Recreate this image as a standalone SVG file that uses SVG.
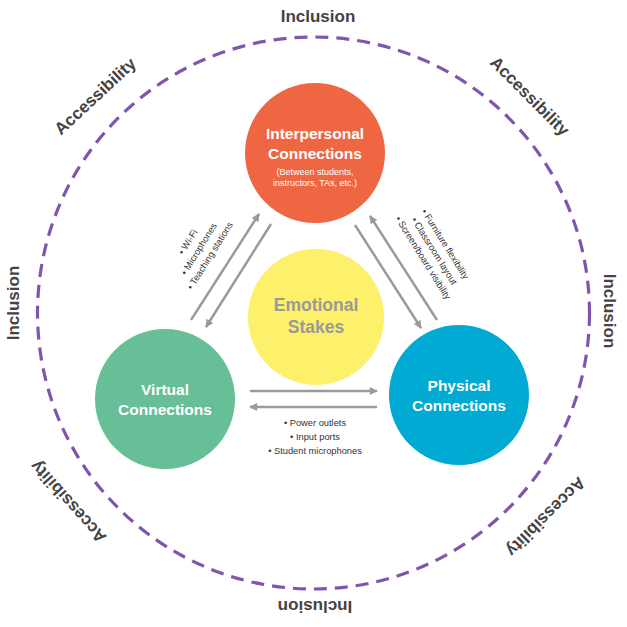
<svg xmlns="http://www.w3.org/2000/svg" width="627" height="627" viewBox="0 0 627 627">
<defs>
<style>
.outer{font-family:"Liberation Sans",Arial,sans-serif;font-weight:bold;font-size:17px;fill:#444;text-anchor:middle}
.title{font-family:"Liberation Sans",Arial,sans-serif;font-weight:bold;font-size:15.5px;fill:#fff;text-anchor:middle}
.sub{font-family:"Liberation Sans",Arial,sans-serif;font-size:9px;fill:#fff;text-anchor:middle}
.lbl{font-family:"Liberation Sans",Arial,sans-serif;font-size:9.3px;fill:#333;text-anchor:middle}
.arr{stroke:#9b9b9b;stroke-width:2.5;fill:none;marker-end:url(#ah)}
</style>
<marker id="ah" viewBox="0 0 10 10" refX="9" refY="5" markerWidth="9" markerHeight="8" markerUnits="userSpaceOnUse" orient="auto">
<path d="M0,0 L10,5 L0,10 z" fill="#9b9b9b"/>
</marker>
</defs>
<rect width="627" height="627" fill="#fff"/>
<circle cx="313.5" cy="313" r="276" fill="none" stroke="#7f56ab" stroke-width="3.2" stroke-dasharray="13 8"/>
<g id="ring-labels">
<text class="outer" x="318" y="22">Inclusion</text>
<text class="outer" transform="translate(315,601) rotate(180)">Inclusion</text>
<text class="outer" transform="translate(19,303) rotate(-90)">Inclusion</text>
<text class="outer" transform="translate(604,311) rotate(90)">Inclusion</text>
<text class="outer" transform="translate(95,96) rotate(-43)" dy="6">Accessibility</text>
<text class="outer" transform="translate(530,96) rotate(45)" dy="6">Accessibility</text>
<text class="outer" transform="translate(68,502) rotate(-132)" dy="6">Accessibility</text>
<text class="outer" transform="translate(546,517) rotate(135)" dy="6">Accessibility</text>
</g>
<g id="connectors">
<line class="arr" x1="191" y1="320" x2="259" y2="214"/>
<line class="arr" x1="271" y1="224" x2="206" y2="327"/>
<line class="arr" x1="355" y1="225" x2="421" y2="328"/>
<line class="arr" x1="437" y1="320" x2="370" y2="216"/>
<line class="arr" x1="250" y1="391" x2="377" y2="391"/>
<line class="arr" x1="377" y1="407" x2="250" y2="407"/>
</g>
<g id="labels-virtual-interpersonal" transform="translate(199,249) rotate(-58)">
<text class="lbl" y="-13" dy="3">• Wi-Fi</text>
<text class="lbl" y="0" dy="3">• Microphones</text>
<text class="lbl" y="13" dy="3">• Teaching stations</text>
</g>
<g id="labels-interpersonal-physical" transform="translate(434,251) rotate(58)">
<text class="lbl" y="-13" dy="3">• Furniture flexibility</text>
<text class="lbl" y="0" dy="3">• Classroom layout</text>
<text class="lbl" y="13" dy="3">• Screen/board visibility</text>
</g>
<g id="labels-virtual-physical">
<text class="lbl" x="315" y="426">• Power outlets</text>
<text class="lbl" x="315" y="440">• Input ports</text>
<text class="lbl" x="315" y="454">• Student microphones</text>
</g>
<g id="interpersonal">
<circle cx="315" cy="153" r="70" fill="#ef6642"/>
<text class="title" x="315" y="139">Interpersonal</text>
<text class="title" x="315" y="159">Connections</text>
<text class="sub" x="315" y="175">(Between students,</text>
<text class="sub" x="315" y="186">instructors, TAs, etc.)</text>
</g>
<g id="emotional">
<circle cx="316" cy="317" r="68" fill="#fdf06a"/>
<text class="title" x="316" y="311" style="fill:#9a9a9a;font-size:17.5px">Emotional</text>
<text class="title" x="316" y="333" style="fill:#9a9a9a;font-size:17.5px">Stakes</text>
</g>
<g id="virtual">
<circle cx="165" cy="399" r="70" fill="#66bf96"/>
<text class="title" x="165" y="395">Virtual</text>
<text class="title" x="165" y="415">Connections</text>
</g>
<g id="physical">
<circle cx="459" cy="395" r="70" fill="#00aad3"/>
<text class="title" x="459" y="391">Physical</text>
<text class="title" x="459" y="411">Connections</text>
</g>
</svg>
